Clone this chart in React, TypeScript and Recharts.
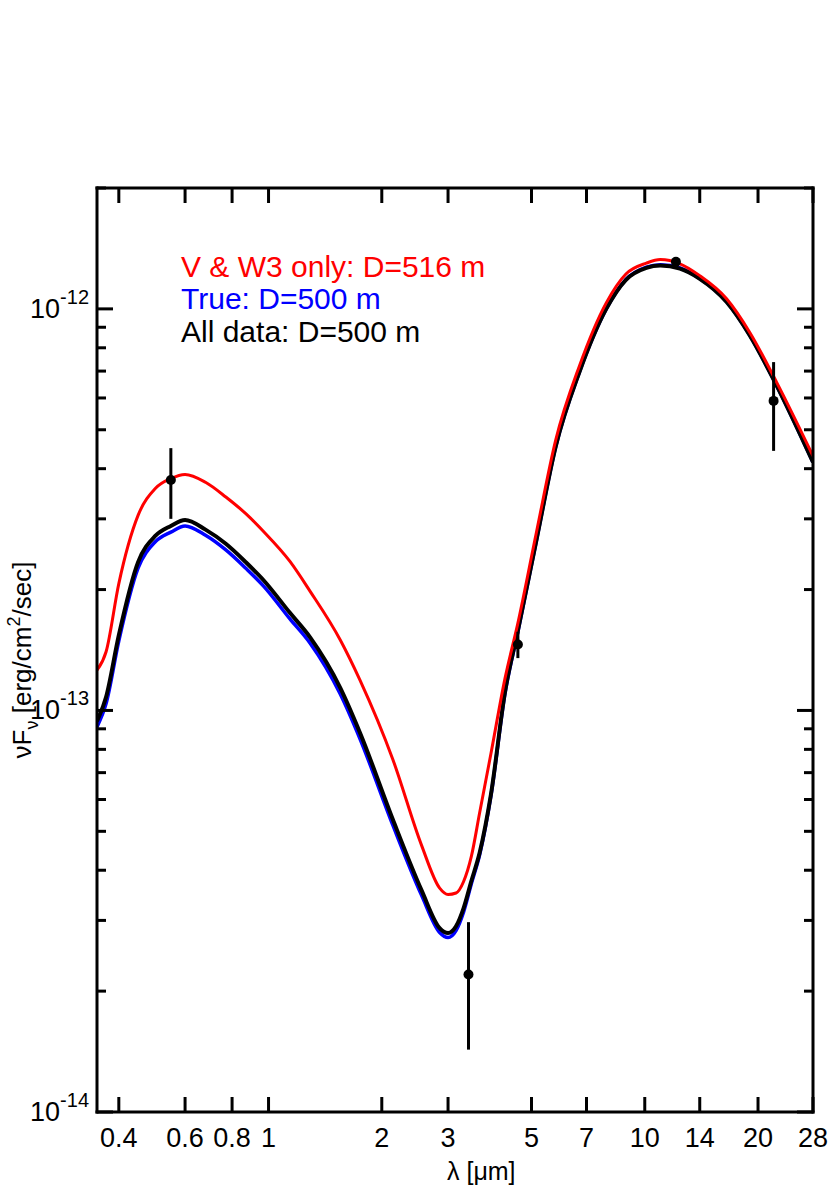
import React from 'react';
import { ComposedChart, Line, Scatter, XAxis, YAxis, ErrorBar, Customized } from 'recharts';

const FONT = '"Liberation Sans", Arial, Helvetica, sans-serif';

// model grid, wavelength in micron
const wavelength = [0.35, 0.37, 0.4, 0.45, 0.5, 0.55, 0.6, 0.68, 0.77, 0.87, 0.97, 1.14, 1.29, 1.55, 1.75, 2.14, 2.55, 2.85, 3.0, 3.15, 3.3, 3.46, 3.64, 3.9, 4.25, 4.6, 5.15, 5.8, 6.7, 7.9, 8.9, 10.1, 11.0, 12.4, 14.0, 16.5, 19.0, 22.4, 28];

// nuF_nu in units of 1e-13 erg/cm2/sec
const fitVW3 = [1.26, 1.4, 2.07, 3.06, 3.57, 3.78, 3.87, 3.7, 3.4, 3.09, 2.79, 2.35, 1.98, 1.5, 1.19, 0.755, 0.462, 0.361, 0.348, 0.351, 0.375, 0.433, 0.556, 0.78, 1.2, 1.65, 2.77, 4.72, 7.2, 10.35, 12.2, 13.0, 13.27, 12.95, 12.1, 10.6, 8.75, 6.57, 4.3];
const trueModel = [0.91, 1.04, 1.49, 2.26, 2.63, 2.78, 2.88, 2.73, 2.51, 2.26, 2.04, 1.69, 1.47, 1.1, 0.85, 0.518, 0.347, 0.28, 0.272, 0.283, 0.315, 0.37, 0.437, 0.612, 1.1, 1.57, 2.64, 4.54, 6.95, 10.0, 11.82, 12.7, 12.88, 12.64, 11.9, 10.42, 8.6, 6.45, 4.15];
const fitAll = [0.94, 1.08, 1.54, 2.34, 2.72, 2.88, 2.98, 2.82, 2.6, 2.34, 2.11, 1.75, 1.52, 1.14, 0.88, 0.535, 0.357, 0.287, 0.279, 0.29, 0.322, 0.376, 0.442, 0.617, 1.11, 1.58, 2.65, 4.55, 6.95, 10.0, 11.8, 12.65, 12.82, 12.59, 11.88, 10.4, 8.6, 6.45, 4.15];

// photometry (V, W1..W4)
const photLambda = [0.55, 3.4, 4.6, 12.1, 22.0];
const photFlux = [3.75, 0.22, 1.46, 13.1, 5.9];
const photErr = [0.75, 0.077, 0.11, 0.1, 1.47];

const xTicks = [0.4, 0.6, 0.8, 1, 2, 3, 5, 7, 10, 14, 20, 28];
const yDecades = [1e-14, 1e-13, 1e-12];
const yMinorSteps = [2, 3, 4, 5, 6, 7, 8, 9];

const UNIT = 1e-13;

const sedRows = wavelength.map((l, i) => ({
  lambda: l,
  red: fitVW3[i] * UNIT,
  blue: trueModel[i] * UNIT,
  black: fitAll[i] * UNIT,
}));

const photRows = photLambda.map((l, i) => ({
  lambda: l,
  flux: photFlux[i] * UNIT,
  err: photErr[i] * UNIT,
}));

const yTicks: number[] = [];
yDecades.forEach((d) => {
  yTicks.push(d);
  yMinorSteps.forEach((m) => {
    if (m * d <= 2.0001e-12) yTicks.push(m * d);
  });
});

const isMajor = (v: number) => {
  const lg = Math.log10(v);
  return Math.abs(lg - Math.round(lg)) < 1e-6;
};

const BottomTick = (props: any) => {
  const { x, y, payload } = props;
  return (
    <g>
      <line x1={x} x2={x} y1={y} y2={y - 15} stroke="#000" strokeWidth={3} />
      <text x={x} y={y + 35} textAnchor="middle" fontSize={27} fontFamily={FONT} fill="#000">
        {payload.value}
      </text>
    </g>
  );
};

const TopTick = (props: any) => {
  const { x, y } = props;
  return <line x1={x} x2={x} y1={y} y2={y + 15} stroke="#000" strokeWidth={3} />;
};

const LeftTick = (props: any) => {
  const { x, y, payload } = props;
  const major = isMajor(payload.value);
  const len = major ? 16 : 9;
  return (
    <g>
      <line x1={x} x2={x + len} y1={y} y2={y} stroke="#000" strokeWidth={3} />
      {major && (
        <text x={x - 8} y={y + 9} textAnchor="end" fontSize={27} fontFamily={FONT} fill="#000">
          <tspan>10</tspan>
          <tspan dy={-14} fontSize={20}>{String(Math.round(Math.log10(payload.value)))}</tspan>
        </text>
      )}
    </g>
  );
};

const RightTick = (props: any) => {
  const { x, y, payload } = props;
  const len = isMajor(payload.value) ? 16 : 9;
  return <line x1={x} x2={x - len} y1={y} y2={y} stroke="#000" strokeWidth={3} />;
};

const Annotations = () => (
  <g fontFamily={FONT}>
    <text x={181} y={277} fontSize={30} fill="#ff0000">{'V & W3 only: D=516 m'}</text>
    <text x={181} y={309} fontSize={30} fill="#0000ff">{'True: D=500 m'}</text>
    <text x={181} y={342} fontSize={30} fill="#000">{'All data: D=500 m'}</text>
    <text x={447} y={1180} fontSize={25} fill="#000">{'λ [μm]'}</text>
    <text transform="translate(31,660) rotate(-90)" textAnchor="middle" fontSize={26} fill="#000">
      νF
      <tspan dy={7} fontSize={18}>ν</tspan>
      <tspan dy={-7}> [erg/cm</tspan>
      <tspan dy={-11} fontSize={18}>2</tspan>
      <tspan dy={11}>/sec]</tspan>
    </text>
  </g>
);

const frame = { stroke: '#000', strokeWidth: 3, strokeLinecap: 'square' as const };

export default function App() {
  return (
    <div style={{ position: 'absolute', left: 0, top: 0, width: 830, height: 1187, background: '#fff' }}>
      <ComposedChart width={830} height={1187} data={sedRows} margin={{ top: 187, right: 16, bottom: 0, left: 0 }}>
        <XAxis
          xAxisId="b"
          dataKey="lambda"
          type="number"
          scale="log"
          domain={[0.35, 28]}
          allowDataOverflow
          ticks={xTicks}
          interval={0}
          height={75}
          tickSize={0}
          tickMargin={0}
          tickLine={false}
          axisLine={frame}
          tick={<BottomTick />}
        />
        <XAxis
          xAxisId="t"
          orientation="top"
          dataKey="lambda"
          type="number"
          scale="log"
          domain={[0.35, 28]}
          allowDataOverflow
          ticks={xTicks}
          interval={0}
          height={1}
          tickSize={0}
          tickMargin={0}
          tickLine={false}
          axisLine={frame}
          tick={<TopTick />}
        />
        <YAxis
          yAxisId="l"
          type="number"
          scale="log"
          domain={[1e-14, 2e-12]}
          allowDataOverflow
          ticks={yTicks}
          interval={0}
          width={97}
          tickSize={0}
          tickMargin={0}
          tickLine={false}
          axisLine={frame}
          tick={<LeftTick />}
        />
        <YAxis
          yAxisId="r"
          orientation="right"
          type="number"
          scale="log"
          domain={[1e-14, 2e-12]}
          allowDataOverflow
          ticks={yTicks}
          interval={0}
          width={1}
          tickSize={0}
          tickMargin={0}
          tickLine={false}
          axisLine={frame}
          tick={<RightTick />}
        />
        <Line xAxisId="b" yAxisId="l" type="monotone" dataKey="blue" stroke="#0000ff" strokeWidth={3.5} dot={false} isAnimationActive={false} />
        <Line xAxisId="b" yAxisId="l" type="monotone" dataKey="black" stroke="#000000" strokeWidth={4} dot={false} isAnimationActive={false} />
        <Line xAxisId="b" yAxisId="l" type="monotone" dataKey="red" stroke="#ff0000" strokeWidth={3} dot={false} isAnimationActive={false} />
        <Line xAxisId="t" yAxisId="r" type="monotone" dataKey="black" stroke="none" dot={false} activeDot={false} legendType="none" isAnimationActive={false} />
        <Scatter
          xAxisId="b"
          yAxisId="l"
          data={photRows}
          dataKey="flux"
          isAnimationActive={false}
          shape={(p: any) => <circle cx={p.cx} cy={p.cy} r={5} fill="#000" />}
        >
          <ErrorBar dataKey="err" direction="y" width={0} stroke="#000" strokeWidth={3} isAnimationActive={false} />
        </Scatter>
        <Customized component={Annotations} />
      </ComposedChart>
    </div>
  );
}
